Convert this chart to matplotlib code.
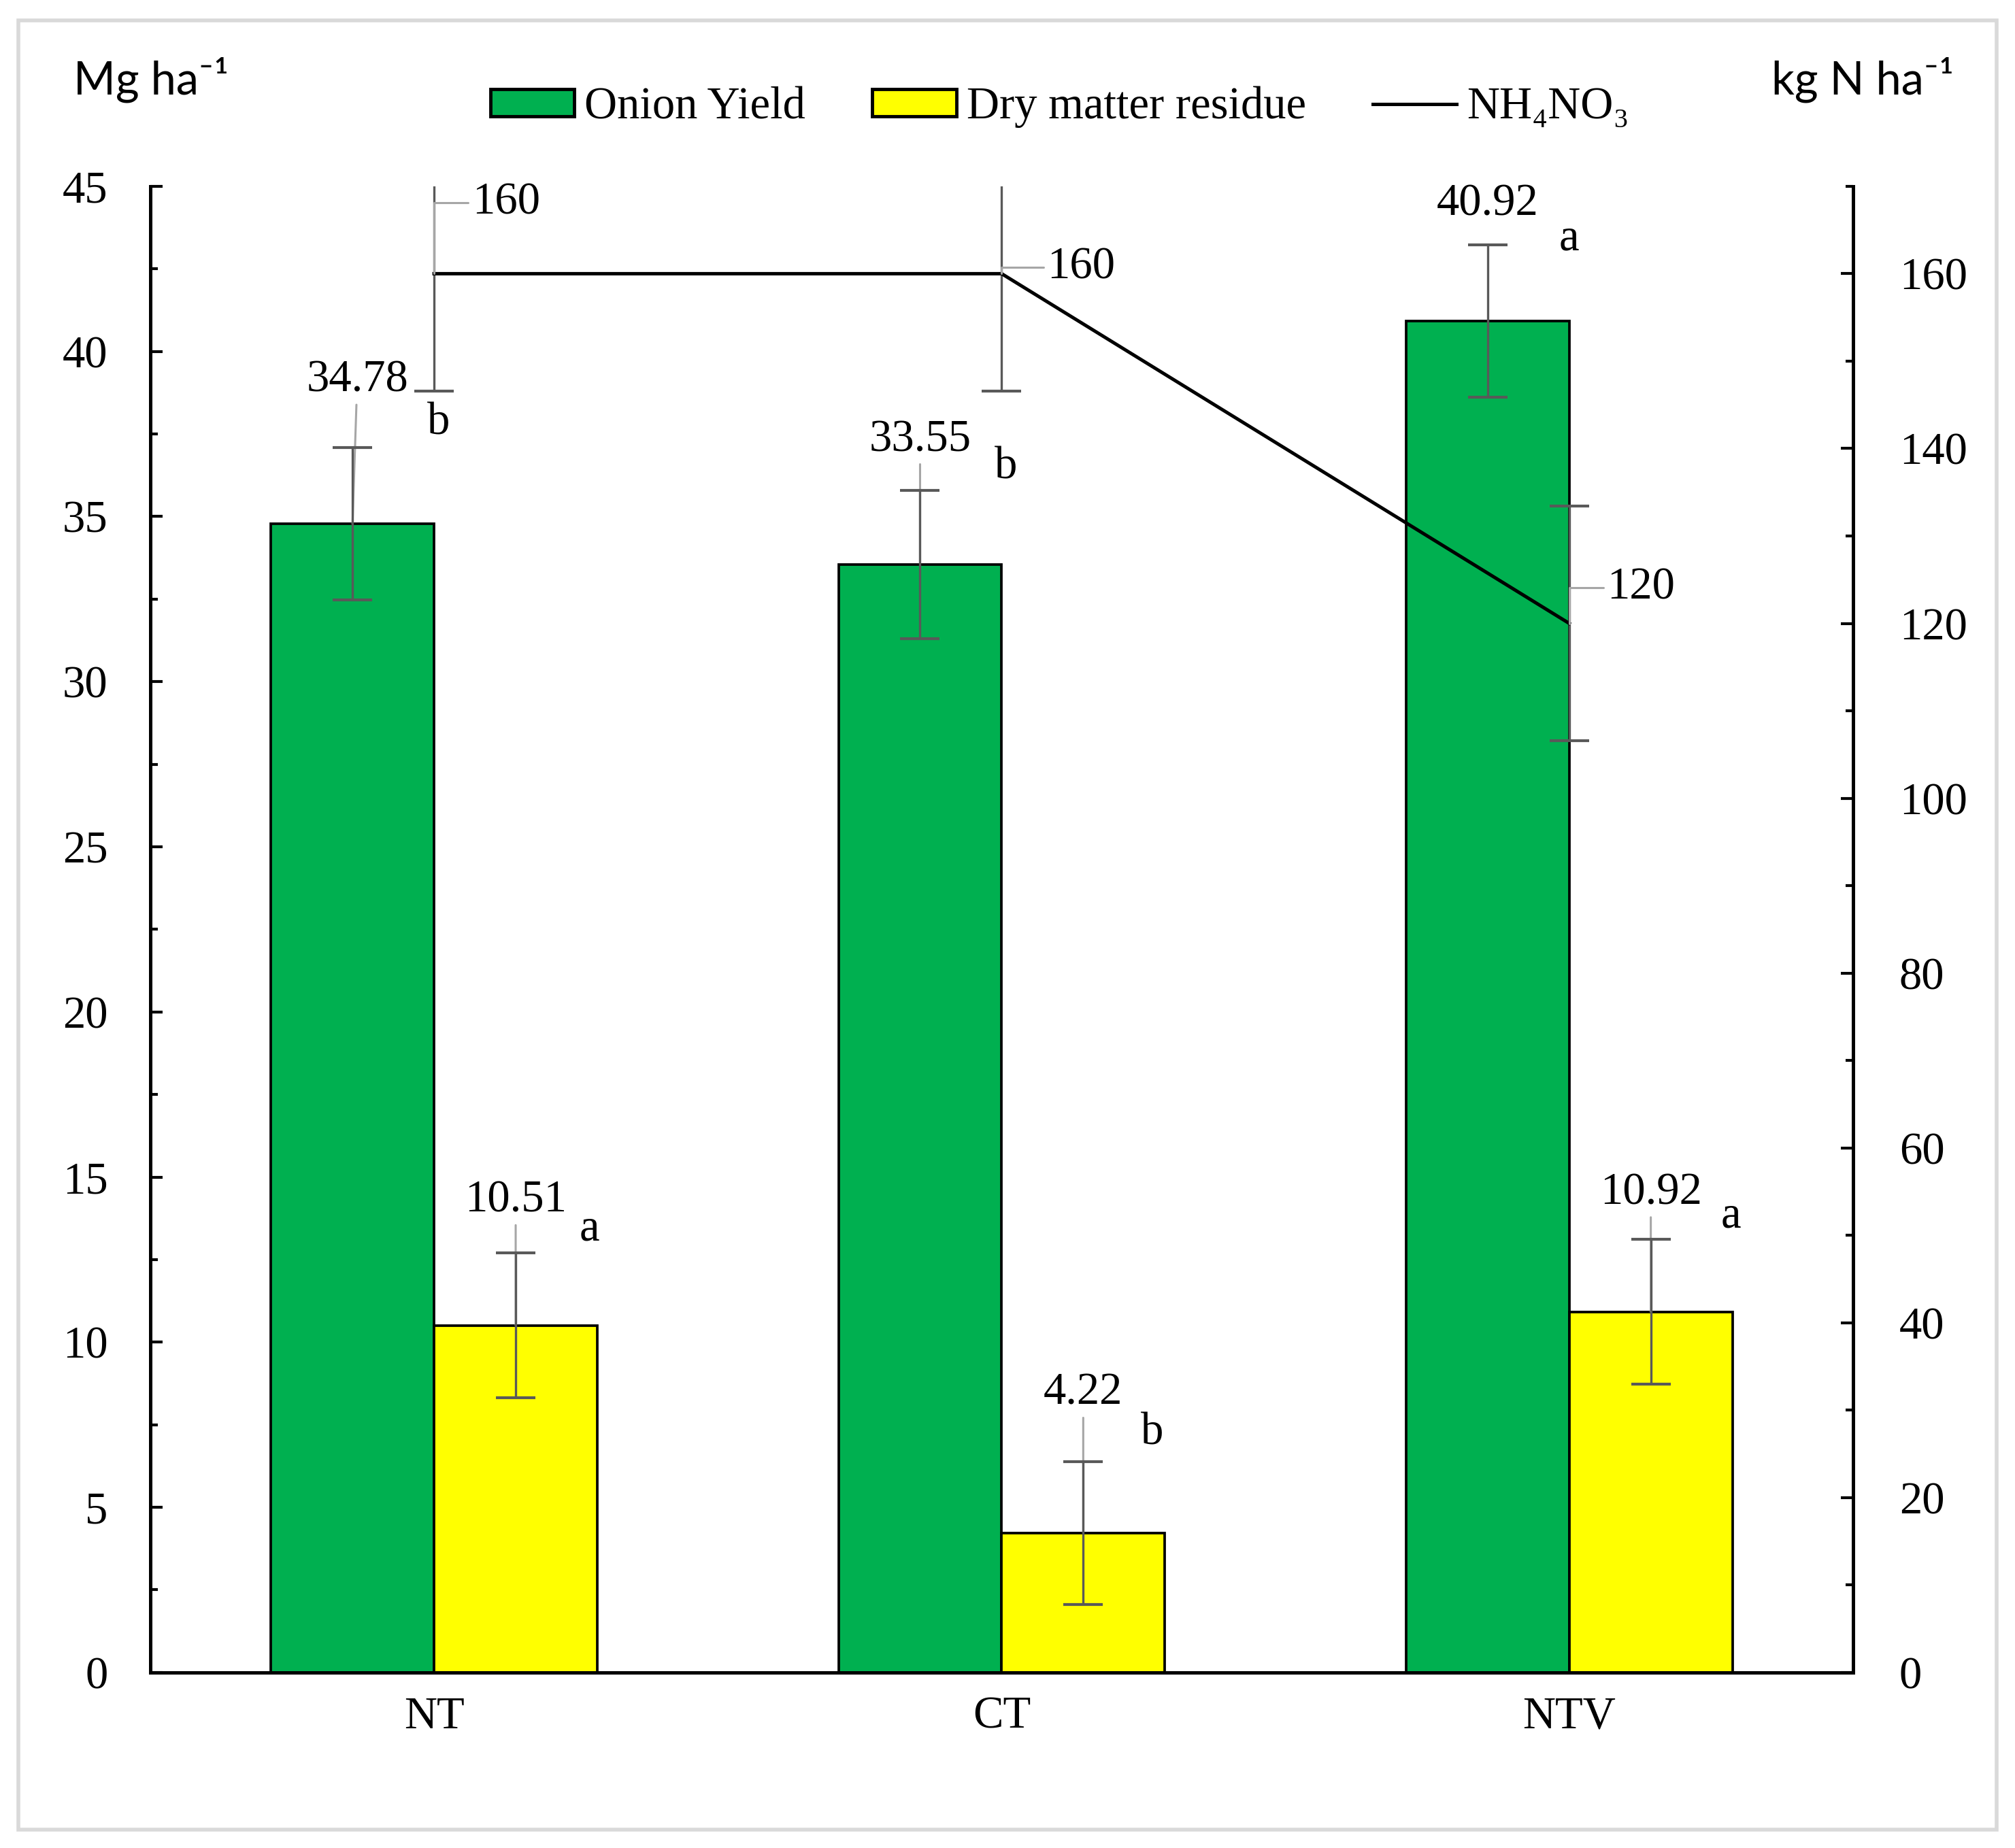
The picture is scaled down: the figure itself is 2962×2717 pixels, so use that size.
import matplotlib
matplotlib.use("Agg")
import numpy as np
from matplotlib import pyplot as plt
from matplotlib.patches import Rectangle, Patch
from matplotlib.lines import Line2D
from matplotlib.ticker import MultipleLocator

# data
treatments = ["NT", "CT", "NTV"]
onion_yield = [34.78, 33.55, 40.92]
onion_err = [2.3, 2.25, 2.3]
onion_letters = ["b", "b", "a"]
dry_matter = [10.51, 4.22, 10.92]
dry_err = [2.2, 2.17, 2.2]
dry_letters = ["a", "b", "a"]
nh4no3 = [160, 160, 120]
nh4no3_err = [13.4, 13.4, 13.4]

plt.rcParams['font.family'] = ['Liberation Serif', 'DejaVu Serif']
fs = 48

fig = plt.figure(figsize=(29.62, 27.17), dpi=100)
fig.patches.append(Rectangle((27/2962, 1-2690/2717), 2908/2962, 2660/2717,
                             transform=fig.transFigure, fill=False,
                             edgecolor='#d9d9d9', lw=4))

ax = fig.add_axes([0.0746, 0.0950, 0.8450, 0.8042])
x = np.arange(len(treatments))
w = 0.2875

ekw = dict(ecolor='#595959', elinewidth=2.4, capsize=21, capthick=3, zorder=4)
ax.bar(x - w/2, onion_yield, w, color='#00B050', edgecolor='black', lw=2.7,
       yerr=onion_err, error_kw=ekw, zorder=2)
ax.bar(x + w/2, dry_matter, w, color='#FFFF00', edgecolor='black', lw=2.7,
       yerr=dry_err, error_kw=ekw, zorder=2)

ax.set_xlim(-0.5, 2.5)
ax.set_ylim(0, 45)
ax.set_yticks(np.arange(0, 46, 5))
ax.yaxis.set_minor_locator(MultipleLocator(2.5))
ax.set_xticks(x)
ax.set_xticklabels(treatments, fontsize=fs)
ax.tick_params(axis='x', length=0, pad=25)
ax.tick_params(axis='y', which='major', direction='in', length=13, width=3,
               labelsize=fs, pad=45)
ax.tick_params(axis='y', which='minor', direction='in', length=8, width=3)
for s in ['left', 'bottom']:
    ax.spines[s].set_linewidth(3.6)
ax.spines['top'].set_visible(False)
ax.spines['right'].set_visible(False)

lead = dict(arrowstyle='-', color='#a6a6a6', lw=2.2, shrinkA=2, shrinkB=0)
# bar value labels and letters
onion_lab = [(5, 152), (0, 132), (0, 124)]
onion_let = [(91, 107), (91, 103), (86, 87)]
dry_lab = [(0, 132), (0, 148), (0, 126)]
dry_let = [(78, 102), (73, 106), (85, 101)]
for i in range(len(treatments)):
    ax.annotate(f"{onion_yield[i]:.2f}", (x[i] - w/2, onion_yield[i]),
                xytext=onion_lab[i], textcoords='offset points', fontsize=fs,
                ha='center', va='center', arrowprops=lead if i < 2 else None, zorder=3)
    ax.annotate(onion_letters[i], (x[i] - w/2, onion_yield[i]),
                xytext=onion_let[i], textcoords='offset points', fontsize=fs,
                ha='center', va='center')
    ax.annotate(f"{dry_matter[i]:.2f}", (x[i] + w/2, dry_matter[i]),
                xytext=dry_lab[i], textcoords='offset points', fontsize=fs,
                ha='center', va='center', arrowprops=lead, zorder=3)
    ax.annotate(dry_letters[i], (x[i] + w/2, dry_matter[i]),
                xytext=dry_let[i], textcoords='offset points', fontsize=fs,
                ha='center', va='center')

ax2 = ax.twinx()
ax2.errorbar(x, nh4no3, yerr=nh4no3_err, color='black', lw=3.6,
             ecolor='#595959', elinewidth=2.4, capsize=21, capthick=3)
ax2.set_ylim(0, 170)
ax2.set_yticks(np.arange(0, 161, 20))
ax2.yaxis.set_minor_locator(MultipleLocator(10))
ax2.tick_params(axis='y', which='major', direction='in', length=13, width=3,
                labelsize=fs, pad=49)
ax2.tick_params(axis='y', which='minor', direction='in', length=8, width=3)
ax2.spines['right'].set_linewidth(3.6)
for s in ['top', 'left', 'bottom']:
    ax2.spines[s].set_visible(False)

line_lab = [(76, 75), (84, 7), (76, 38)]
for i in range(len(treatments)):
    ax2.annotate(str(nh4no3[i]), (x[i], nh4no3[i]), xytext=line_lab[i],
                 textcoords='offset points', fontsize=fs, ha='center', va='center',
                 arrowprops=dict(arrowstyle='-', color='#a6a6a6', lw=2.2,
                                 shrinkA=2, shrinkB=0,
                                 connectionstyle='angle,angleA=180,angleB=90,rad=0'))

# unit labels
fig.text(0.0365, 0.957, "Mg ha⁻¹", fontsize=fs, family=['Lato', 'DejaVu Sans'],
         ha='left', va='center')
fig.text(0.879, 0.957, "kg N ha⁻¹", fontsize=fs, family=['Lato', 'DejaVu Sans'],
         ha='left', va='center')

handles = [Patch(facecolor='#00B050', edgecolor='black', lw=3.5),
           Patch(facecolor='#FFFF00', edgecolor='black', lw=3.5),
           Line2D([], [], color='black', lw=3.6)]
fig.legend(handles, ["Onion Yield", "Dry matter residue", "NH₄NO₃"],
           loc='center', bbox_to_anchor=(0.526, 0.942), ncol=3, frameon=False,
           fontsize=fs, handlelength=1.85, handleheight=0.55, handletextpad=0.23,
           columnspacing=1.47, borderpad=0)

fig.savefig("out.png", dpi=100)
